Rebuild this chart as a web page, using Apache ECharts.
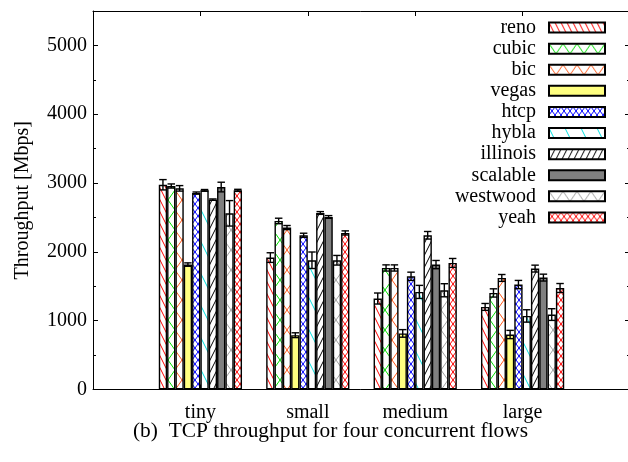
<!DOCTYPE html>
<html>
<head>
<meta charset="utf-8">
<script src="https://cdn.jsdelivr.net/npm/echarts@6/dist/echarts.min.js"></script>
<style>html,body{margin:0;padding:0;background:#fff;}#c{width:628px;height:462px;}</style>
</head>
<body>
<div id="c"></div>
<script>
// ---- data ----
const categories = ['', 'tiny', 'small', 'medium', 'large', ''];
const seriesNames = ['reno', 'cubic', 'bic', 'vegas', 'htcp', 'hybla', 'illinois', 'scalable', 'westwood', 'yeah'];
const reno     = [2975, 1917, 1322, 1200];
const cubic    = [2957, 2449, 1766, 1403];
const bic      = [2923, 2353, 1766, 1621];
const vegas    = [1815,  789,  815,  799];
const htcp     = [2855, 2241, 1645, 1525];
const hybla    = [2894, 1878, 1418, 1069];
const illinois = [2759, 2565, 2241, 1757];
const scalable = [2942, 2507, 1815, 1626];
const westwood = [2560, 1878, 1442, 1089];
const yeah     = [2894, 2275, 1839, 1475];
const renoErr     = [75, 70, 80, 50];
const cubicErr    = [30, 40, 45, 60];
const bicErr      = [40, 30, 45, 50];
const vegasErr    = [25, 35, 55, 60];
const htcpErr     = [15, 30, 60, 60];
const hyblaErr    = [12, 120, 95, 90];
const illinoisErr = [10, 20, 55, 50];
const scalableErr = [70, 20, 60, 50];
const westwoodErr = [185, 70, 95, 85];
const yeahErr     = [15, 30, 65, 65];
const yTicks = [0, 1000, 2000, 3000, 4000, 5000];

const values = [reno, cubic, bic, vegas, htcp, hybla, illinois, scalable, westwood, yeah];
const errors = [renoErr, cubicErr, bicErr, vegasErr, htcpErr, hyblaErr, illinoisErr, scalableErr, westwoodErr, yeahErr];

// ---- patterns ----
function tile(w, h, color, lw, kinds, bg) {
  const c = document.createElement('canvas');
  c.width = w; c.height = h;
  const g = c.getContext('2d');
  g.fillStyle = bg || '#fff';
  g.fillRect(0, 0, w, h);
  g.strokeStyle = color; g.lineWidth = lw;
  kinds.forEach(k => {
    for (let o = -1; o <= 1; o++) {
      g.beginPath();
      if (k === 'back') { g.moveTo(o * w, 0); g.lineTo(o * w + w, h); }
      else { g.moveTo(o * w, h); g.lineTo(o * w + w, 0); }
      g.stroke();
    }
  });
  return { image: c, repeat: 'repeat' };
}
const fills = [
  tile(6, 12, '#ff0000', 1, ['back']),
  tile(14, 20, '#00e000', 1, ['back', 'fwd']),
  tile(14, 20, '#ff5a1a', 1, ['back', 'fwd']),
  '#ffff80',
  tile(6, 8, '#0000ff', 1, ['back', 'fwd']),
  tile(16, 32, '#00e0e0', 1, ['back']),
  tile(6, 12, '#000000', 1, ['fwd']),
  '#808080',
  tile(14, 20, '#a0a0a0', 1, ['back', 'fwd']),
  tile(6, 8, '#ff0000', 1, ['back', 'fwd'])
];

const FONT = 'Liberation Serif';
const BARFRAC = 0.0775;

const series = seriesNames.map((n, i) => ({
  name: n,
  type: 'bar',
  barWidth: (BARFRAC * 100) + '%',
  barGap: '0%',
  data: [null].concat(values[i]).concat([null]),
  itemStyle: { color: fills[i], borderColor: '#000', borderWidth: 1.4 },
  z: 2
}));

const errData = [];
values.forEach((arr, s) => arr.forEach((v, c) => errData.push([c + 1, s, v, errors[s][c]])));

series.push({
  type: 'custom',
  name: 'err',
  z: 5,
  encode: { x: 0, y: 2 },
  data: errData,
  renderItem: function (params, api) {
    const cat = api.value(0), s = api.value(1), v = api.value(2), e = api.value(3);
    const band = api.size([1, 0])[0];
    const bw = band * BARFRAC;
    const p = api.coord([cat, v]);
    const x = p[0] + (s - 4.5) * bw;
    const yt = api.coord([cat, v + e])[1];
    const yb = api.coord([cat, v - e])[1];
    const hw = bw * 0.45;
    const st = { stroke: '#000', lineWidth: 1.4 };
    return {
      type: 'group',
      children: [
        { type: 'line', shape: { x1: x, y1: yt, x2: x, y2: yb }, style: st },
        { type: 'line', shape: { x1: x - hw, y1: yt, x2: x + hw, y2: yt }, style: st },
        { type: 'line', shape: { x1: x - hw, y1: yb, x2: x + hw, y2: yb }, style: st }
      ]
    };
  }
});

const chart = echarts.init(document.getElementById('c'), null, { renderer: 'canvas' });
chart.setOption({
  animation: false,
  backgroundColor: '#fff',
  grid: { left: 93, top: 11, right: -2, bottom: 72.5, show: false, containLabel: false, outerBoundsMode: 'none' },
  legend: {
    data: seriesNames,
    orient: 'vertical',
    right: 22, top: 17,
    padding: 0,
    align: 'right',
    itemWidth: 56, itemHeight: 10,
    itemGap: 0,
    icon: 'rect',
    textStyle: { fontFamily: FONT, fontSize: 20, color: '#000', lineHeight: 21.1, padding: [0, 8, 0, 0] }
  },
  xAxis: [{
    type: 'category',
    data: categories,
    boundaryGap: false,
    axisLine: { onZero: false, lineStyle: { color: '#000', width: 1 } },
    axisTick: { inside: true, length: 5, lineStyle: { color: '#000' } },
    axisLabel: { fontFamily: FONT, fontSize: 20, color: '#000', margin: 13 },
    splitLine: { show: false }
  }, {
    type: 'category',
    data: categories,
    position: 'top',
    boundaryGap: false,
    axisLine: { show: true, onZero: false, lineStyle: { color: '#000', width: 1 } },
    axisTick: { inside: true, length: 5, lineStyle: { color: '#000' } },
    axisLabel: { show: false },
    splitLine: { show: false }
  }],
  yAxis: [{
    type: 'value',
    min: 0, max: 5500, interval: 1000,
    name: 'Throughput [Mbps]',
    nameLocation: 'middle',
    nameGap: 60,
    nameTextStyle: { fontFamily: FONT, fontSize: 20, color: '#000' },
    axisLine: { show: true, onZero: false, lineStyle: { color: '#000', width: 1 } },
    axisTick: { show: true, inside: true, length: 5, lineStyle: { color: '#000' } },
    minorTick: { show: true, splitNumber: 2, length: 3, lineStyle: { color: '#000' } },
    axisLabel: {
      fontFamily: FONT, fontSize: 20, color: '#000', margin: 6, showMaxLabel: false,
      formatter: v => (yTicks.indexOf(v) >= 0 ? String(v) : '')
    },
    splitLine: { show: false }
  }, {
    type: 'value',
    min: 0, max: 5500, interval: 1000,
    position: 'right',
    axisLine: { show: false, onZero: false },
    axisTick: { show: true, inside: true, length: 5, lineStyle: { color: '#000' } },
    minorTick: { show: true, splitNumber: 2, length: 3, lineStyle: { color: '#000' } },
    axisLabel: { show: false },
    splitLine: { show: false }
  }],
  graphic: [{
    type: 'text',
    left: 133, top: 421,
    style: { text: '(b)  TCP throughput for four concurrent flows', font: '21.4px "Liberation Serif"', fill: '#000' }
  }],
  series: series
});
</script>
</body>
</html>
